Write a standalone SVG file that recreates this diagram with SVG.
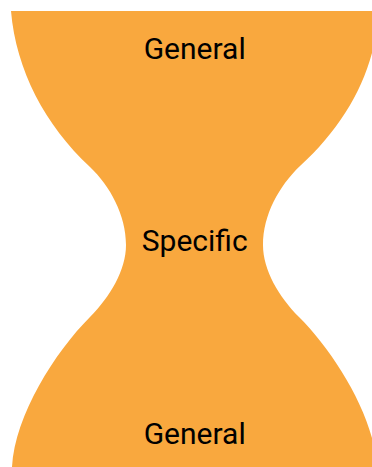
<svg xmlns="http://www.w3.org/2000/svg" width="372" height="467" viewBox="0 0 372 467">
  <style>
    .shape { fill: #F9A83E; }
    .label { font-family: Roboto, "Liberation Sans", sans-serif; font-size: 30px; fill: #000; text-anchor: middle; }
  </style>
  <rect width="372" height="467" fill="#fff"/>
  <path class="shape" d="M 11 11 C 16 70 45 125 90 167 C 110 186 126 215 126 245 C 126 270 110 297 90 317 C 55 352 15 415 12 467 L 12 470 L 377 470 L 377 467 C 374 415 334 352 299 317 C 279 297 263 270 263 245 C 263 215 279 186 300 166 C 348 122 375 70 379 11 Z"/>
  <g id="top"><text class="label" x="194.7" y="59.3">General</text></g>
  <g id="middle"><text class="label" x="194.7" y="251">Specific</text></g>
  <g id="bottom"><text class="label" x="194.7" y="444.3">General</text></g>
</svg>
